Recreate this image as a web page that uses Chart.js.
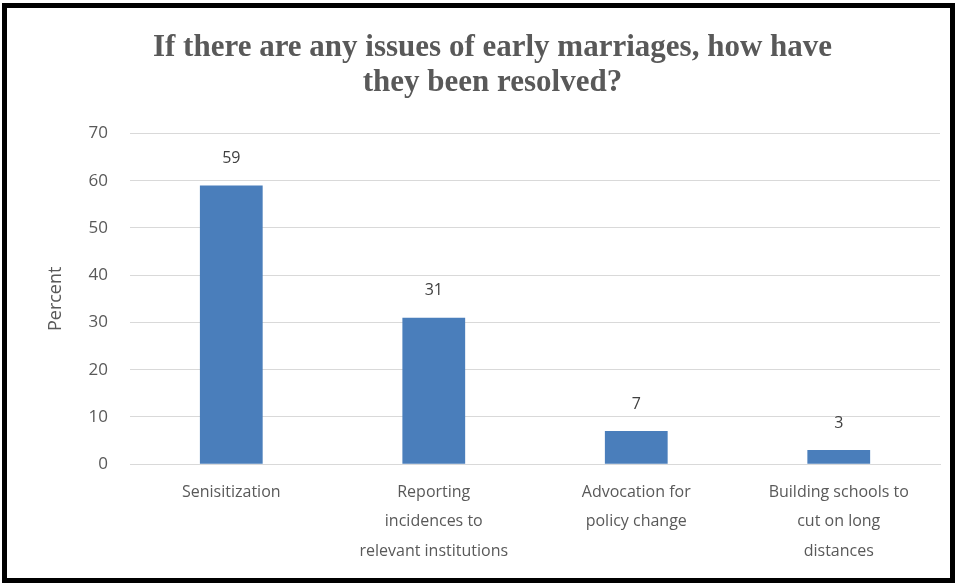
<!DOCTYPE html>
<html>
<head>
<meta charset="utf-8">
<script src="https://cdn.jsdelivr.net/npm/chart.js@4"></script>
<style>
  body { margin: 0; background: #fff; }
  #wrap { position: relative; width: 960px; height: 586px; }
  #frame { position: absolute; left: 2px; top: 3px; width: 953px; height: 580px;
           border: 5px solid #000; box-sizing: border-box; pointer-events: none; }
</style>
</head>
<body>
<div id="wrap">
  <canvas id="issues-chart" width="960" height="586"></canvas>
  <div id="frame"></div>
</div>
<script>
var categories = [
    'Senisitization',
    ['Reporting', 'incidences to', 'relevant institutions'],
    ['Advocation for', 'policy change'],
    ['Building schools to', 'cut on long', 'distances']
];
var percents = [59, 31, 7, 3];
var yTicks = [0, 10, 20, 30, 40, 50, 60, 70];

// writes the value above each bar
var barLabels = {
    id: 'barLabels',
    afterDatasetsDraw: function (chart) {
        var ctx = chart.ctx;
        var meta = chart.getDatasetMeta(0);
        ctx.save();
        ctx.font = '16px "Open Sans"';
        ctx.fillStyle = '#404040';
        ctx.textAlign = 'center';
        ctx.textBaseline = 'middle';
        meta.data.forEach(function (bar, i) {
            ctx.fillText(chart.data.datasets[0].data[i], bar.x, bar.y - 27);
        });
        ctx.restore();
    }
};

document.addEventListener('DOMContentLoaded', function () {
    var ctx = document.getElementById('issues-chart').getContext('2d');
    var issuesChart = new Chart(ctx, {
        type: 'bar',
        data: {
            labels: categories,
            datasets: [{
                label: 'Percent',
                data: percents,
                backgroundColor: '#4a7ebb',
                borderWidth: 0,
                categoryPercentage: 1,
                barPercentage: 0.31
            }]
        },
        options: {
            responsive: false,
            animation: false,
            layout: { padding: { left: 45, right: 20, top: 31, bottom: 15 } },
            plugins: {
                legend: { display: false },
                tooltip: { enabled: false },
                title: {
                    display: true,
                    text: ['If there are any issues of early marriages, how have', 'they been resolved?'],
                    color: '#595959',
                    font: { family: '"Liberation Serif"', size: 31, weight: 'bold', lineHeight: 1.12 },
                    padding: { top: 0, bottom: 33 }
                }
            },
            scales: {
                x: {
                    grid: { display: false },
                    border: { color: '#d9d9d9' },
                    ticks: {
                        color: '#595959',
                        font: { family: '"Open Sans"', size: 16, lineHeight: 1.85 },
                        padding: 5,
                        maxRotation: 0
                    }
                },
                y: {
                    min: 0,
                    max: 70,
                    afterBuildTicks: function (axis) {
                        axis.ticks = yTicks.map(function (v) { return { value: v }; });
                    },
                    grid: { color: '#d9d9d9', drawTicks: false },
                    border: { display: false },
                    ticks: {
                        color: '#595959',
                        font: { family: '"Open Sans"', size: 17 },
                        padding: 22
                    },
                    title: {
                        display: true,
                        text: 'Percent',
                        color: '#595959',
                        font: { family: '"Open Sans"', size: 18 },
                        padding: { top: 0, bottom: 0 }
                    }
                }
            }
        },
        plugins: [barLabels]
    });
});
</script>
</body>
</html>
